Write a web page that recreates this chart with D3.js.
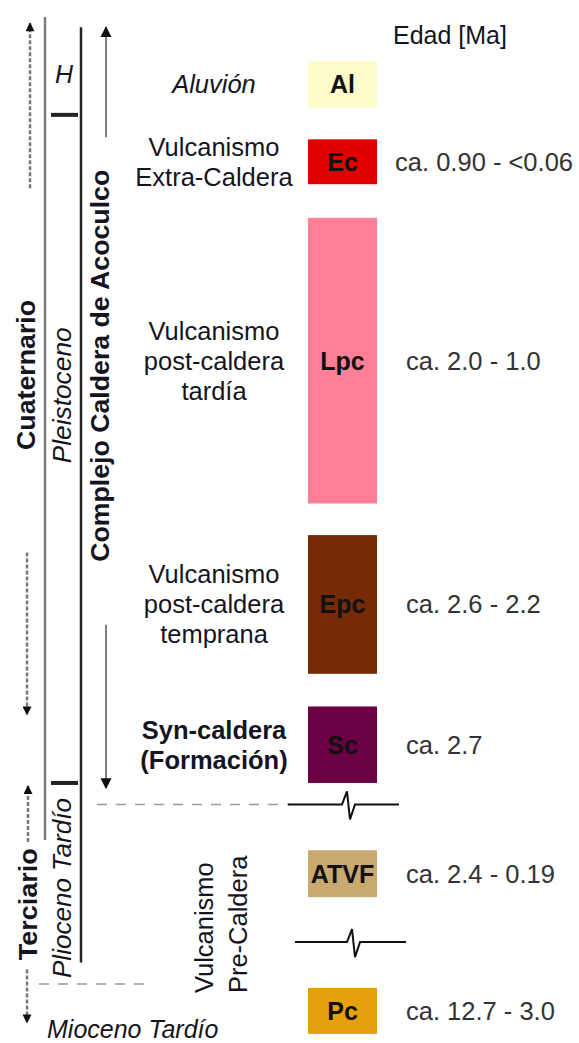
<!DOCTYPE html>
<html>
<head>
<meta charset="utf-8">
<script src="https://cdn.jsdelivr.net/npm/d3@7"></script>
<style>
body { margin: 0; background: #fff; }
text { font-family: "Liberation Sans", Arial, sans-serif; }
</style>
</head>
<body>
<svg id="chart" width="579" height="1043"></svg>
<script>
// unidades del complejo (de arriba a abajo)
var units = ["Al", "Ec", "Lpc", "Epc", "Sc", "ATVF", "Pc"];
var unitNames = [
    ["Aluvión"],
    ["Vulcanismo", "Extra-Caldera"],
    ["Vulcanismo", "post-caldera", "tardía"],
    ["Vulcanismo", "post-caldera", "temprana"],
    ["Syn-caldera", "(Formación)"],
    [],
    []
];
var unitAges = ["", "ca. 0.90 - <0.06", "ca. 2.0 - 1.0", "ca. 2.6 - 2.2", "ca. 2.7", "ca. 2.4 - 0.19", "ca. 12.7 - 3.0"];
// techo y base de cada unidad en la columna (0 = arriba, 100 = abajo)
var unitTop  = [4.0, 11.7, 19.4, 50.5, 67.3, 81.4, 94.9];
var unitBase = [8.6, 16.1, 47.4, 64.1, 74.8, 86.0, 99.4];
var unitColors = ["#fdfccb", "#e00000", "#ff7f96", "#772a06", "#6b0044", "#c9a96f", "#e6a00b"];

var periods = ["Cuaternario", "Terciario"];
var epochs = ["H", "Pleistoceno", "Plioceno Tardío", "Mioceno Tardío"];
var epochBounds = [9.3, 74.8];
var hiatus = [76.9, 90.4];

var svg = d3.select("#chart"),
    width = +svg.attr("width"),
    height = +svg.attr("height");

var y = d3.scaleLinear().domain([0, 100]).range([20, 1040]);
var color = d3.scaleOrdinal(units, unitColors);
var ink = "#15151f";

var boxX = 308, boxW = 69, nameX = 214, ageX = boxX + boxW + 29;

// flechas
var defs = svg.append("defs");
function marker(id, w, h) {
    defs.append("marker")
        .attr("id", id)
        .attr("viewBox", "0 0 10 10")
        .attr("refX", 9).attr("refY", 5)
        .attr("markerUnits", "userSpaceOnUse")
        .attr("markerWidth", w).attr("markerHeight", h)
        .attr("orient", "auto")
        .append("path")
        .attr("d", "M0,0L10,5L0,10z")
        .attr("fill", "#111");
}
marker("big", 11, 12);
marker("small", 10, 9);

function vline(x, y0, y1, stroke, sw, dash, mk) {
    var l = svg.append("line")
        .attr("x1", x).attr("x2", x)
        .attr("y1", y(y0)).attr("y2", y(y1))
        .attr("stroke", stroke)
        .attr("stroke-width", sw);
    if (dash) l.attr("stroke-dasharray", dash);
    if (mk) l.attr("marker-end", "url(#" + mk + ")");
    return l;
}

function vtext(x, yc, str, size, weight, style, len, anchor) {
    var t = svg.append("text")
        .attr("transform", "translate(" + x + "," + y(yc) + ") rotate(-90)")
        .attr("text-anchor", anchor || "middle")
        .attr("font-size", size)
        .attr("font-weight", weight)
        .attr("font-style", style)
        .attr("fill", ink)
        .text(str);
    if (len) t.attr("textLength", len).attr("lengthAdjust", "spacingAndGlyphs");
    return t;
}

// columna cronoestratigrafica
vline(45, -0.3, 80.4, "#7c7c7c", 2.5);
vline(81, 0.7, 92.4, "#262626", 2.5);
svg.selectAll(".bound")
    .data(epochBounds)
    .enter().append("line")
    .attr("class", "bound")
    .attr("x1", 51).attr("x2", 78)
    .attr("y1", function(d) { return y(d); })
    .attr("y2", function(d) { return y(d); })
    .attr("stroke", "#222")
    .attr("stroke-width", 4);

// flechas periodos
vline(30, 16.5, 0.3, "#777", 2.5, "4,2", "small");
vline(27, 52.2, 68.1, "#777", 2.5, "4,2", "small");
vline(28, 80.6, 75.1, "#777", 2.5, "4,2", "small");
vline(27, 93.1, 98.3, "#777", 2.5, "4,2", "small");

vtext(35, 34.8, periods[0], 25, "bold", "normal", 150);
vtext(37, 86.7, periods[1], 26, "bold", "normal", 112);

svg.append("text")
    .attr("x", 64).attr("y", y(6.2))
    .attr("text-anchor", "middle")
    .attr("font-size", 25).attr("font-style", "italic")
    .attr("fill", ink)
    .text(epochs[0]);
vtext(71, 36.8, epochs[1], 25, "normal", "italic", 136);
vtext(71, 85.1, epochs[2], 25, "normal", "italic", 180);
svg.append("text")
    .attr("x", 47).attr("y", y(99.8))
    .attr("font-size", 25).attr("font-style", "italic")
    .attr("fill", ink)
    .text(epochs[3]);

// complejo
vline(106, 11.5, 0.7, "#555", 1.5, null, "big");
vline(106, 59.3, 75.3, "#555", 1.5, null, "big");
vtext(109, 33.9, "Complejo Caldera de Acoculco", 26, "bold", "normal", 392);

vtext(213, 95.4, "Vulcanismo", 25.5, "normal", "normal", null, "start");
vtext(247, 95.4, "Pre-Caldera", 25.5, "normal", "normal", null, "start");

// limites discontinuos
svg.append("line")
    .attr("x1", 97).attr("x2", 290)
    .attr("y1", y(hiatus[0])).attr("y2", y(hiatus[0]))
    .attr("stroke", "#999").attr("stroke-width", 1.5)
    .attr("stroke-dasharray", "10,9");
svg.append("line")
    .attr("x1", 39).attr("x2", 145)
    .attr("y1", y(94.5)).attr("y2", y(94.5))
    .attr("stroke", "#999").attr("stroke-width", 1.5)
    .attr("stroke-dasharray", "10,9");

var zig = d3.line();
hiatus.forEach(function(h, i) {
    var yy = y(h), x0 = 288 + i * 7, xm = 347 + i * 5, x1 = 399 + i * 7;
    svg.append("path")
        .attr("d", zig([[x0, yy], [xm - 5, yy], [xm, yy - 13], [xm + 3, yy + 15], [xm + 8, yy], [x1, yy]]))
        .attr("fill", "none")
        .attr("stroke", "#111")
        .attr("stroke-width", 2);
});

// cajas
var rows = svg.selectAll(".unit")
    .data(units)
    .enter().append("g")
    .attr("class", "unit");

rows.append("rect")
    .attr("x", boxX)
    .attr("width", boxW)
    .attr("y", function(d, i) { return y(unitTop[i]); })
    .attr("height", function(d, i) { return y(unitBase[i]) - y(unitTop[i]); })
    .attr("fill", function(d) { return color(d); });

function mid(i) { return (y(unitTop[i]) + y(unitBase[i])) / 2; }

rows.append("text")
    .attr("x", boxX + boxW / 2)
    .attr("y", function(d, i) { return mid(i) + 9; })
    .attr("text-anchor", "middle")
    .attr("font-size", 25)
    .attr("font-weight", "bold")
    .attr("fill", "#111")
    .text(function(d) { return d; });

rows.append("text")
    .attr("class", "age")
    .attr("x", ageX)
    .attr("y", function(d, i) { return mid(i) + 9; })
    .attr("font-size", 25.5)
    .attr("fill", "#333")
    .text(function(d, i) { return unitAges[i]; })
    .each(function() {
        var w = this.getComputedTextLength();
        if (ageX + w > width - 6) d3.select(this).attr("x", width - 6 - w);
    });

var nameStyle = { Al: "italic", Sc: "bold" };
rows.each(function(d, i) {
    var lines = unitNames[i], n = lines.length;
    d3.select(this).selectAll(".name")
        .data(lines)
        .enter().append("text")
        .attr("class", "name")
        .attr("x", nameX)
        .attr("y", function(l, j) { return mid(i) + 9 + (j - (n - 1) / 2) * 30; })
        .attr("text-anchor", "middle")
        .attr("font-size", 25.5)
        .attr("font-style", nameStyle[d] == "italic" ? "italic" : "normal")
        .attr("font-weight", nameStyle[d] == "bold" ? "bold" : "normal")
        .attr("fill", ink)
        .text(function(l) { return l; });
});

svg.append("text")
    .attr("x", 393).attr("y", y(2.35))
    .attr("font-size", 25)
    .attr("fill", ink)
    .text("Edad [Ma]");
</script>
</body>
</html>
